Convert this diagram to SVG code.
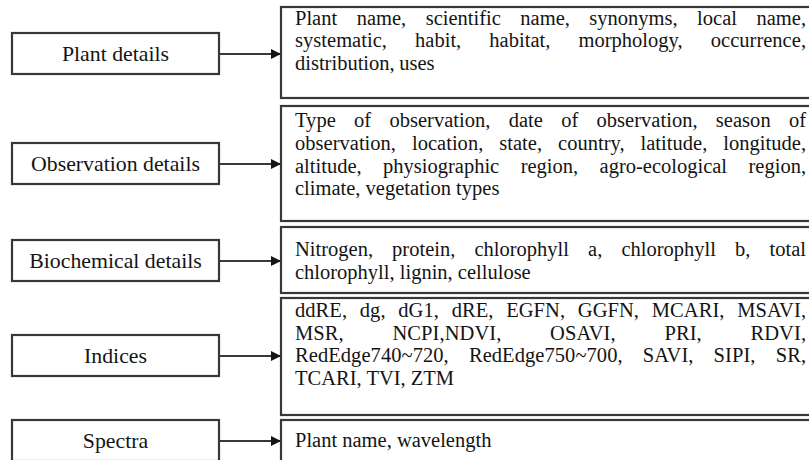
<svg xmlns="http://www.w3.org/2000/svg" width="809" height="460" viewBox="0 0 809 460">
  <style>
    .box { fill: #ffffff; stroke: #383838; stroke-width: 2.2; }
    .lbl { font-family: "Liberation Serif", "Times New Roman", serif; font-size: 21.8px; fill: #141414; text-anchor: middle; }
    .txt { font-family: "Liberation Serif", "Times New Roman", serif; font-size: 20.5px; fill: #141414; }
    .conn { stroke: #383838; stroke-width: 2; fill: none; marker-end: url(#arrow); }
  </style>
  <defs>
    <marker id="arrow" markerUnits="userSpaceOnUse" markerWidth="10" markerHeight="10" refX="10" refY="5" orient="auto">
      <path d="M0,0 L10,5 L0,10 z" fill="#141414"/>
    </marker>
  </defs>
  <rect width="809" height="460" fill="#ffffff"/>

  <!-- category boxes -->
  <g id="plant-details">
    <rect class="box" x="12" y="33" width="207" height="41"/>
    <text class="lbl" x="115.5" y="61">Plant details</text>
  </g>
  <g id="observation-details">
    <rect class="box" x="12" y="143" width="207" height="41"/>
    <text class="lbl" x="115.5" y="171">Observation details</text>
  </g>
  <g id="biochemical-details">
    <rect class="box" x="12" y="240" width="207" height="41"/>
    <text class="lbl" x="115.5" y="268">Biochemical details</text>
  </g>
  <g id="indices">
    <rect class="box" x="12" y="335" width="207" height="41"/>
    <text class="lbl" x="115.5" y="363">Indices</text>
  </g>
  <g id="spectra">
    <rect class="box" x="12" y="420" width="207" height="41"/>
    <text class="lbl" x="115.5" y="448">Spectra</text>
  </g>

  <!-- attribute boxes (run off the right edge) -->
  <g id="plant-attributes">
    <rect class="box" x="281" y="7" width="540" height="91"/>
    <text class="txt" x="295" y="24.5" word-spacing="14.4" textLength="511" lengthAdjust="spacing">Plant name, scientific name, synonyms, local name,</text>
    <text class="txt" x="295" y="47.2" word-spacing="22.9" textLength="511" lengthAdjust="spacing">systematic, habit, habitat, morphology, occurrence,</text>
    <text class="txt" x="295" y="69.9" word-spacing="-0.5">distribution, uses</text>
  </g>
  <g id="observation-attributes">
    <rect class="box" x="281" y="106" width="540" height="115"/>
    <text class="txt" x="295" y="127.3" word-spacing="13.1" textLength="511" lengthAdjust="spacing">Type of observation, date of observation, season of</text>
    <text class="txt" x="295" y="150" word-spacing="10.8" textLength="511" lengthAdjust="spacing">observation, location, state, country, latitude, longitude,</text>
    <text class="txt" x="295" y="172.7" word-spacing="16.3" textLength="511" lengthAdjust="spacing">altitude, physiographic region, agro-ecological region,</text>
    <text class="txt" x="295" y="195.4">climate, vegetation types</text>
  </g>
  <g id="biochemical-attributes">
    <rect class="box" x="281" y="227" width="540" height="66"/>
    <text class="txt" x="295" y="256" word-spacing="14" textLength="511" lengthAdjust="spacing">Nitrogen, protein, chlorophyll a, chlorophyll b, total</text>
    <text class="txt" x="295" y="278.7">chlorophyll, lignin, cellulose</text>
  </g>
  <g id="index-attributes">
    <rect class="box" x="281" y="298" width="540" height="117"/>
    <text class="txt" x="295" y="317" word-spacing="7.5" textLength="511" lengthAdjust="spacing">ddRE, dg, dG1, dRE, EGFN, GGFN, MCARI, MSAVI,</text>
    <text class="txt" x="295" y="339.7" word-spacing="43.5" textLength="511" lengthAdjust="spacing">MSR, NCPI,NDVI, OSAVI, PRI, RDVI,</text>
    <text class="txt" x="295" y="362.4" word-spacing="15" textLength="511" lengthAdjust="spacing">RedEdge740~720, RedEdge750~700, SAVI, SIPI, SR,</text>
    <text class="txt" x="295" y="385.1">TCARI, TVI, ZTM</text>
  </g>
  <g id="spectra-attributes">
    <rect class="box" x="281" y="420" width="540" height="50"/>
    <text class="txt" x="295" y="447">Plant name, wavelength</text>
  </g>

  <!-- connectors -->
  <g id="connectors">
    <line class="conn" x1="219" y1="54" x2="281" y2="54"/>
    <line class="conn" x1="219" y1="164" x2="281" y2="164"/>
    <line class="conn" x1="219" y1="261" x2="281" y2="261"/>
    <line class="conn" x1="219" y1="356" x2="281" y2="356"/>
    <line class="conn" x1="219" y1="441" x2="281" y2="441"/>
  </g>
</svg>
